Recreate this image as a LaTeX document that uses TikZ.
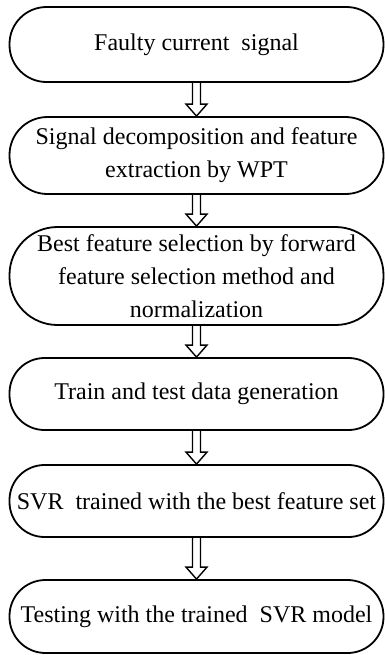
\documentclass[tikz,border=0pt]{standalone}
\usepackage{fontspec}
\setmainfont{Liberation Serif}
\usepackage{tikz}
\usetikzlibrary{calc}

\newcommand{\hollowarrow}[2]{%
  \draw[hollow] ($(#1.south)+(-4,0)$) -- ($(#2.north)+(-4,-12)$) -- ($(#2.north)+(-10.5,-12)$)
    -- (#2.north) -- ($(#2.north)+(10.5,-12)$) -- ($(#2.north)+(4,-12)$) -- ($(#1.south)+(4,0)$);}

\begin{document}
\begin{tikzpicture}[x=0.5pt,y=-0.5pt,
  block/.style={rectangle, draw=black, line width=0.9pt, align=center, inner sep=0pt,
    minimum width=187pt, font=\fontsize{12}{16.5}\selectfont},
  hollow/.style={draw=black, line width=0.7pt, line join=miter}]
		\useasboundingbox (0,0) rectangle (385,655);
		\node[block, minimum height=37.5pt, rounded corners=18.5pt] (n1) at (196.5,44.5) {Faulty current~ signal};
		\node[block, minimum height=38.5pt, rounded corners=19pt] (n2) at (196.5,155.5) {Signal decomposition and feature\\extraction by WPT};
		\node[block, minimum height=49pt, rounded corners=24pt] (n3) at (196.5,276) {Best feature selection by forward\\feature selection method and\\normalization};
		\node[block, minimum height=36pt, rounded corners=17.5pt] (n4) at (196.5,394) {Train and test data generation};
		\node[block, minimum height=36pt, rounded corners=17.5pt] (n5) at (196.5,501) {SVR~ trained with the best feature set};
		\node[block, minimum height=36.5pt, rounded corners=18pt] (n6) at (196.5,616.5) {Testing with the trained~ SVR model};
		\hollowarrow{n1}{n2}
		\hollowarrow{n2}{n3}
		\hollowarrow{n3}{n4}
		\hollowarrow{n4}{n5}
		\hollowarrow{n5}{n6}
	\end{tikzpicture}
\end{document}
